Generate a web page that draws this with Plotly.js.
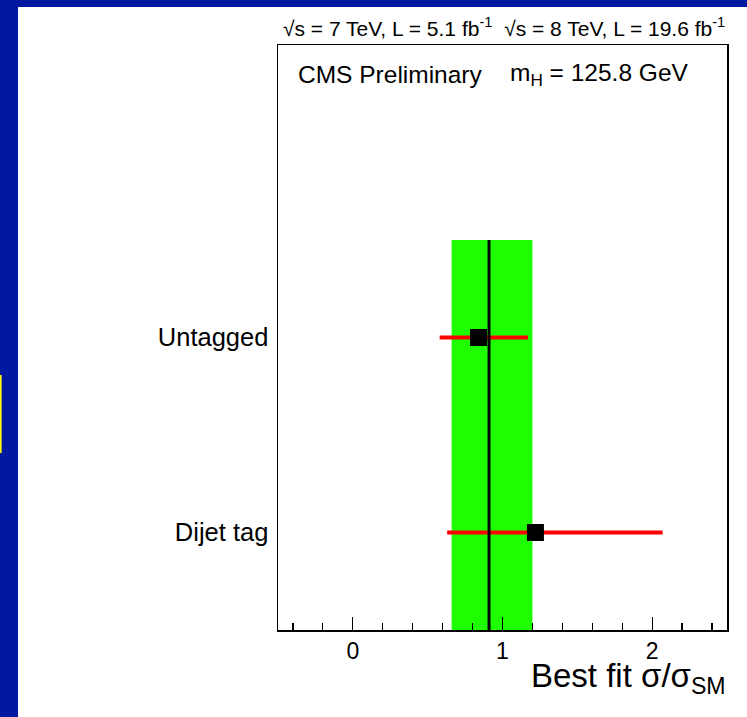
<!DOCTYPE html>
<html>
<head>
<meta charset="utf-8">
<script src="https://cdn.plot.ly/plotly-3.0.1.min.js"></script>
<style>
  html, body { margin: 0; padding: 0; background: #ffffff; }
  #chart { width: 747px; height: 717px; }
</style>
</head>
<body>
<div id="chart"></div>
<script>
// Signal-strength fit per event category
const categories = ['Dijet tag', 'Untagged'];
const categoryPos = [0.5, 1.5];
const bestFit = [1.22, 0.84];
const errMinus = [0.59, 0.26];
const errPlus = [0.85, 0.33];

// Combined fit and its 1-sigma interval
const combinedFit = 0.91;
const combinedLow = 0.66;
const combinedHigh = 1.20;
const bandTop = 2.0;

const xTicks = [0, 1, 2];
const xTickText = ['0', '1', '2'];

const W = 747, H = 717;
const M = { l: 278, r: 20, t: 45, b: 87 };
const plotW = W - M.l - M.r, plotH = H - M.t - M.b;
// pixel -> paper helpers for decorations
const px = x => (x - M.l) / plotW;
const py = y => (H - M.b - y) / plotH;

const font = 'Liberation Sans, Arial, Helvetica, sans-serif';
const blue = '#0019a0';

const traces = [
  {
    // combined 1-sigma band
    x: [combinedLow, combinedHigh, combinedHigh, combinedLow, combinedLow],
    y: [0, 0, bandTop, bandTop, 0],
    type: 'scatter', mode: 'lines', fill: 'toself',
    fillcolor: '#1eff00', line: { width: 0, color: '#1eff00' },
    hoverinfo: 'skip', showlegend: false
  },
  {
    // per-category uncertainties
    x: bestFit, y: categoryPos,
    type: 'scatter', mode: 'markers',
    marker: { size: 1, color: 'rgba(0,0,0,0)' },
    error_x: {
      type: 'data', symmetric: false,
      array: errPlus, arrayminus: errMinus,
      color: '#ff0000', thickness: 4, width: 0
    },
    showlegend: false
  },
  {
    // combined best fit
    x: [combinedFit, combinedFit], y: [0, bandTop],
    type: 'scatter', mode: 'lines',
    line: { color: '#000000', width: 3 },
    showlegend: false
  },
  {
    x: bestFit, y: categoryPos,
    type: 'scatter', mode: 'markers',
    marker: { symbol: 'square', size: 17, color: '#000000' },
    showlegend: false
  }
];

const layout = {
  width: W, height: H,
  margin: M,
  paper_bgcolor: blue,
  plot_bgcolor: '#ffffff',
  font: { family: font, color: '#000000' },
  showlegend: false,
  xaxis: {
    range: [-0.5, 2.5],
    tickvals: xTicks, ticktext: xTickText,
    ticks: 'inside', ticklen: 13, tickwidth: 1.2, tickcolor: '#000000',
    minor: { dtick: 0.2, tick0: 0, ticks: 'inside', ticklen: 7, tickwidth: 1.2, tickcolor: '#000000', showgrid: false },
    tickfont: { size: 23, family: font },
    showgrid: false, zeroline: false,
    showline: true, mirror: true, linecolor: '#000000', linewidth: 1.5
  },
  yaxis: {
    range: [0, 3],
    tickvals: categoryPos, ticktext: categories,
    ticks: '', ticklabelstandoff: 3,
    tickfont: { size: 25.5, family: font },
    showgrid: false, zeroline: false,
    showline: true, mirror: true, linecolor: '#000000', linewidth: 1.5
  },
  shapes: [
    { type: 'rect', xref: 'paper', yref: 'paper', layer: 'below',
      x0: px(18), x1: px(W + 5), y0: py(7), y1: py(H + 5),
      fillcolor: '#ffffff', line: { width: 0 } },
    { type: 'rect', xref: 'paper', yref: 'paper',
      x0: px(0), x1: px(1.6), y0: py(375), y1: py(453),
      fillcolor: '#ffff00', line: { width: 0 } }
  ],
  annotations: [
    { xref: 'paper', yref: 'paper', x: px(727), y: py(27),
      xanchor: 'right', yanchor: 'middle', showarrow: false,
      text: '√s = 7 TeV, L = 5.1 fb<sup>-1</sup>  √s = 8 TeV, L = 19.6 fb<sup>-1</sup>',
      font: { size: 21, family: font } },
    { xref: 'paper', yref: 'paper', x: px(296), y: py(74),
      xanchor: 'left', yanchor: 'middle', showarrow: false,
      text: 'CMS Preliminary', font: { size: 24.5, family: font } },
    { xref: 'paper', yref: 'paper', x: px(508), y: py(74),
      xanchor: 'left', yanchor: 'middle', showarrow: false,
      text: 'm<sub>H</sub> = 125.8 GeV', font: { size: 24.5, family: font } },
    { xref: 'paper', yref: 'paper', x: px(728), y: py(678),
      xanchor: 'right', yanchor: 'middle', showarrow: false,
      text: 'Best fit σ/σ<sub>SM</sub>', font: { size: 33, family: font } }
  ]
};

Plotly.newPlot('chart', traces, layout, { staticPlot: true, displayModeBar: false });
</script>
</body>
</html>
